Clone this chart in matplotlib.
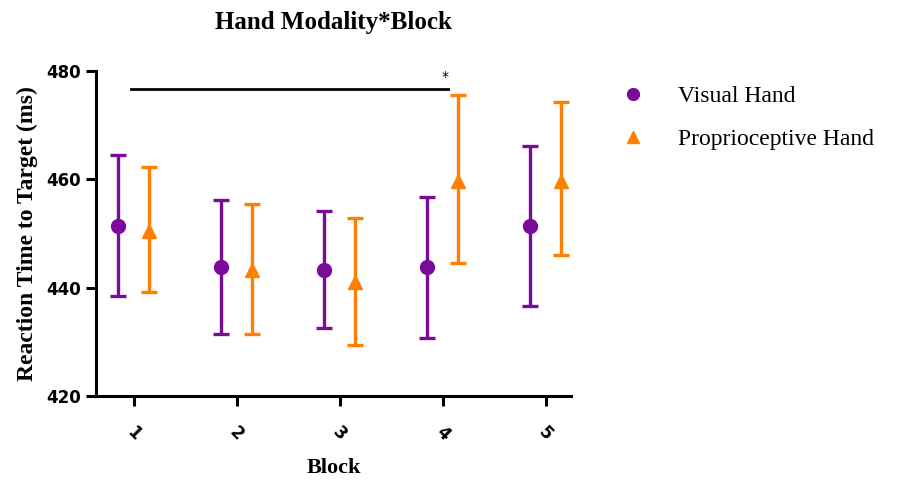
import numpy as np
import matplotlib.pyplot as plt
from matplotlib.lines import Line2D

# data
blocks = [1, 2, 3, 4, 5]
visual_mean = [451.4, 443.8, 443.3, 443.8, 451.3]
visual_hi = [464.5, 456.2, 454.1, 456.8, 466.1]
visual_lo = [438.5, 431.4, 432.6, 430.7, 436.7]
prop_mean = [450.4, 443.2, 441.1, 459.7, 459.7]
prop_hi = [462.3, 455.5, 452.9, 475.6, 474.3]
prop_lo = [439.2, 431.4, 429.5, 444.5, 446.1]
sig_y = 476.7
sig_x = [0.97, 4.05]

purple = '#7a0a9a'
orange = '#ff8000'

fig = plt.figure(figsize=(9.2, 4.83), dpi=100)
ax = fig.add_axes([0.104, 0.18, 0.517, 0.673])

x = np.array(blocks, dtype=float)
vm = np.array(visual_mean)
pm = np.array(prop_mean)
verr = [vm - np.array(visual_lo), np.array(visual_hi) - vm]
perr = [pm - np.array(prop_lo), np.array(prop_hi) - pm]

ax.errorbar(x - 0.155, vm, yerr=verr, fmt='o', color=purple, ms=10,
            elinewidth=2.4, capsize=6, capthick=2.4)
ax.errorbar(x + 0.145, pm, yerr=perr, fmt='^', color=orange, ms=10,
            elinewidth=2.4, capsize=6, capthick=2.4)

# significance bar
ax.plot(sig_x, [sig_y, sig_y], color='black', lw=2)
ax.text(sig_x[1] - 0.03, sig_y + 0.9, '*', ha='center', va='bottom', fontsize=10)

ax.set_xlim(0.63, 5.25)
ax.set_ylim(420, 480)
ax.set_yticks([420, 440, 460, 480])
ax.set_xticks(blocks)
ax.set_xticklabels([str(b) for b in blocks], rotation=-45, fontweight='bold',
                   fontsize=12, ha='center', va='center')
for lab in ax.get_yticklabels():
    lab.set_fontweight('bold')
    lab.set_fontsize(12)

ax.spines['top'].set_visible(False)
ax.spines['right'].set_visible(False)
ax.spines['left'].set_linewidth(2.2)
ax.spines['bottom'].set_linewidth(2.2)
ax.tick_params(width=2.2, length=7, direction='out')
ax.tick_params(axis='x', pad=20)

ax.set_title('Hand Modality*Block', family='Liberation Serif', fontweight='bold',
             fontsize=18, pad=30)
ax.set_xlabel('Block', family='Liberation Serif', fontweight='bold', fontsize=16, labelpad=10)
ax.set_ylabel('Reaction Time to Target (ms)', family='Liberation Serif',
              fontweight='bold', fontsize=17, labelpad=6)

handles = [Line2D([], [], ls='none', marker='o', color=purple, ms=10),
           Line2D([], [], ls='none', marker='^', color=orange, ms=10)]
ax.legend(handles, ['Visual Hand', 'Proprioceptive Hand'], loc='upper left',
          bbox_to_anchor=(1.035, 1.02), frameon=False,
          prop={'family': 'Liberation Serif', 'size': 17},
          handletextpad=0.9, labelspacing=0.9, markerscale=0.85)

fig.savefig('out.png', dpi=100)
